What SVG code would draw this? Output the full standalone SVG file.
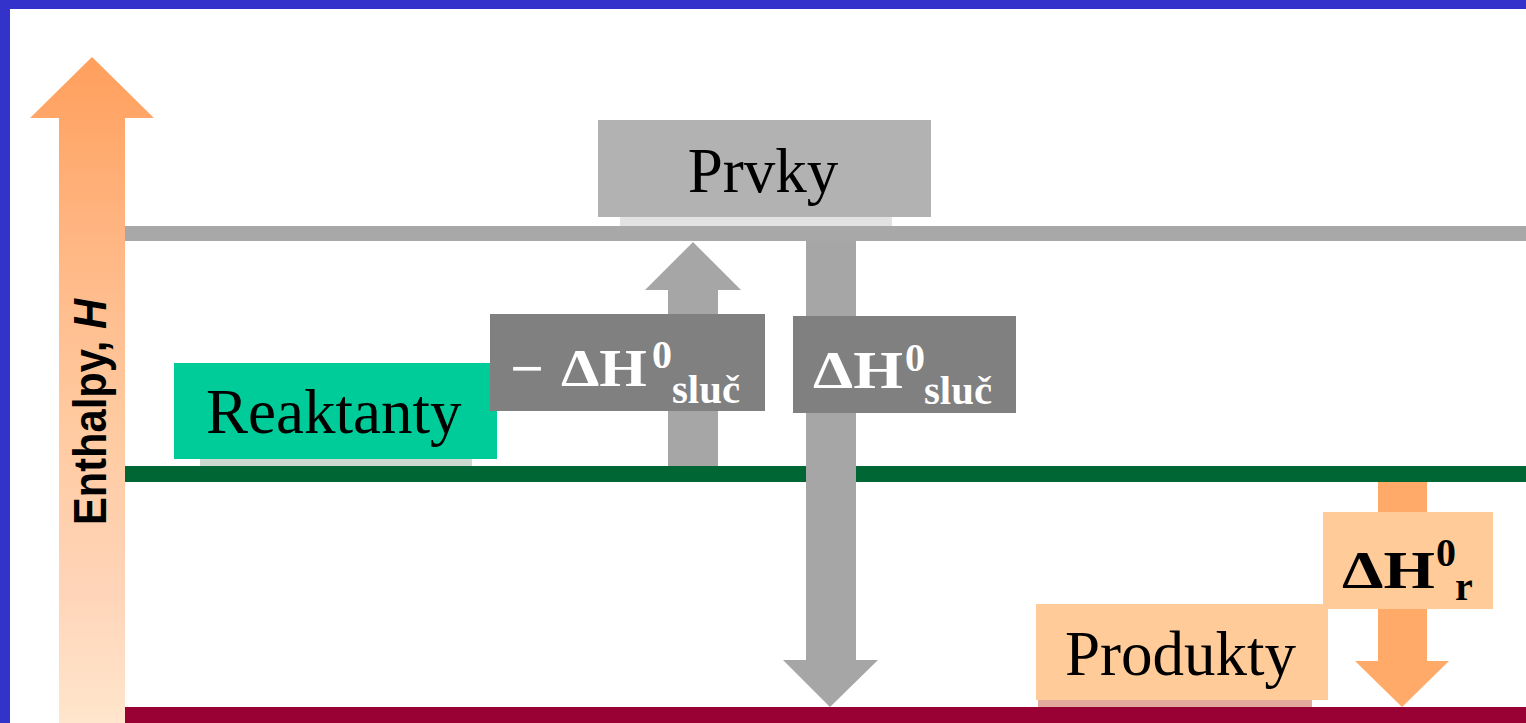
<svg xmlns="http://www.w3.org/2000/svg" width="1526" height="723" viewBox="0 0 1526 723">
<defs>
<linearGradient id="axisGrad" x1="0" y1="57" x2="0" y2="723" gradientUnits="userSpaceOnUse">
<stop offset="0" stop-color="#FF9F5C"/>
<stop offset="0.3" stop-color="#FFB886"/>
<stop offset="0.55" stop-color="#FFCAA0"/>
<stop offset="0.8" stop-color="#FFD4B8"/>
<stop offset="1" stop-color="#FFE6CC"/>
</linearGradient>
<style>
.lbl{font-family:"Liberation Serif","Times New Roman",serif;font-size:63px;fill:#000}
.b{font-family:"Liberation Serif","Times New Roman",serif;font-weight:bold}
.w{fill:#FFFFFF}
.k{fill:#000000}
.big{font-size:52px}
.sm{font-size:40px}
.garrow{fill:#A6A6A6}
</style>
</defs>
<rect x="0" y="0" width="1526" height="723" fill="#FFFFFF"/>
<g id="border">
<rect x="0" y="0" width="1526" height="9" fill="#3333CC"/>
<rect x="0" y="0" width="10" height="723" fill="#3333CC"/>
</g>
<g id="axis">
<polygon points="92,57 154,118 125,118 125,723 59,723 59,118 30,118" fill="url(#axisGrad)"/>
<text transform="translate(106,525) rotate(-90)" x="0" y="0" textLength="226" lengthAdjust="spacingAndGlyphs" style="font-family:'Liberation Sans',Arial,sans-serif;font-weight:bold;font-size:46px;fill:#000">Enthalpy, <tspan font-style="italic">H</tspan></text>
</g>
<g id="levels">
<rect x="620" y="216" width="272" height="10" fill="#E2E2E2"/>
<rect x="200" y="459" width="272" height="7" fill="#CDDACF"/>
<rect x="1038" y="700" width="274" height="7" fill="#E3A99A"/>
</g>
<g id="connectors">
<polygon id="arrow-up" class="garrow" points="693,242 741,290 718,290 718,466 668,466 668,290 645,290"/>
<rect id="level-prvky" x="125" y="226" width="1401" height="15" fill="#A8A8A8"/>
<rect id="level-reaktanty" x="125" y="466" width="1401" height="16" fill="#006633"/>
<rect id="level-produkty" x="125" y="707" width="1401" height="16" fill="#990033"/>
<polygon id="arrow-down" class="garrow" points="806,241 856,241 856,660 878,660 830,707 783,660 806,660"/>
<polygon id="arrow-r" fill="#FFAA68" points="1378,482 1427,482 1427,661 1449,661 1402,707 1355,661 1378,661"/>
</g>
<g id="prvky">
<rect x="598" y="120" width="333" height="97" fill="#B2B2B2"/>
<text class="lbl" x="763" y="192" text-anchor="middle">Prvky</text>
</g>
<g id="reaktanty">
<rect x="174" y="363" width="323" height="96" fill="#00CC99"/>
<text class="lbl" x="206" y="433">Reaktanty</text>
</g>
<g id="produkty">
<rect x="1036" y="604" width="292" height="96" fill="#FFCC99"/>
<text class="lbl" x="1065" y="675">Produkty</text>
</g>
<g id="label-neg-dh-sluc">
<rect x="490" y="314" width="275" height="97" fill="#808080"/>
<text class="b big w" x="510" y="386" textLength="34" lengthAdjust="spacingAndGlyphs">−</text>
<text class="b big w" x="561" y="386" textLength="86" lengthAdjust="spacingAndGlyphs">ΔH</text>
<text class="b sm w" x="652" y="368">0</text>
<text class="b sm w" x="672" y="403" textLength="68" lengthAdjust="spacingAndGlyphs">sluč</text>
</g>
<g id="label-dh-sluc">
<rect x="793" y="316" width="223" height="97" fill="#808080"/>
<text class="b big w" x="813" y="388" textLength="90" lengthAdjust="spacingAndGlyphs">ΔH</text>
<text class="b sm w" x="905" y="371">0</text>
<text class="b sm w" x="924" y="404" textLength="68" lengthAdjust="spacingAndGlyphs">sluč</text>
</g>
<g id="label-dh-r">
<rect x="1323" y="512" width="170" height="97" fill="#FFCC99"/>
<text class="b big k" x="1342" y="588" textLength="93" lengthAdjust="spacingAndGlyphs">ΔH</text>
<text class="b sm k" x="1436" y="566">0</text>
<text class="b sm k" x="1455" y="600">r</text>
</g>
</svg>
